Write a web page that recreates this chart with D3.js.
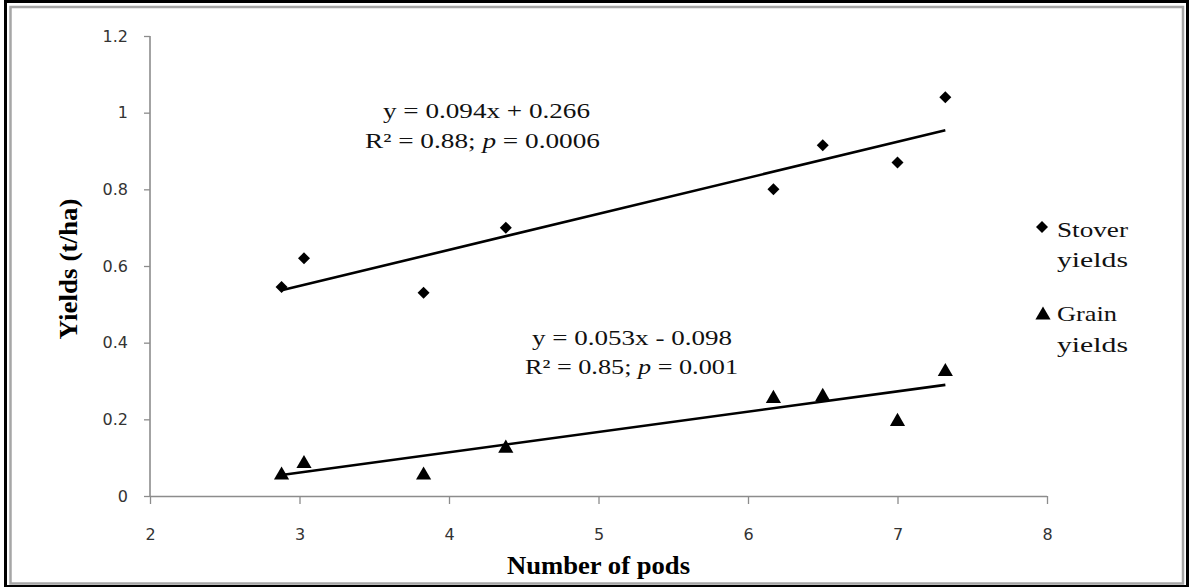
<!DOCTYPE html>
<html><head><meta charset="utf-8">
<script src="https://cdn.jsdelivr.net/npm/d3@7"></script>
<style>html,body{margin:0;padding:0;background:#fff;} svg{display:block;}</style>
</head><body>
<svg id="chart" width="1192" height="587"></svg>
<script>
// Number of pods per plant vs. yields
const pods = [2.88, 3.03, 3.83, 4.38, 6.17, 6.50, 7.00, 7.32];
const stoverYields = [0.545, 0.62, 0.53, 0.70, 0.80, 0.915, 0.87, 1.04];
const grainYields = [0.06, 0.09, 0.06, 0.13, 0.26, 0.265, 0.20, 0.33];
// linear fits: [slope, intercept]
const stoverFit = [0.094, 0.266];
const grainFit = [0.053, -0.098];
const stoverEq = ["y = 0.094x + 0.266", "R² = 0.88; ", "p", " = 0.0006"];
const grainEq = ["y = 0.053x - 0.098", "R² = 0.85; ", "p", " = 0.001"];
const xTicks = [2, 3, 4, 5, 6, 7, 8];
const yTicks = [0, 0.2, 0.4, 0.6, 0.8, 1, 1.2];
const yTickLabels = ["0", "0.2", "0.4", "0.6", "0.8", "1", "1.2"];
const legendLabels = [["Stover", "yields"], ["Grain", "yields"]];
const xTitle = "Number of pods";
const yTitle = "Yields (t/ha)";

const svg = d3.select("#chart");
const serif = "'Liberation Serif', 'Times New Roman', serif";

// frame
svg.append("rect").attr("x", 5.5).attr("y", 1.5).attr("width", 1182).attr("height", 585)
  .attr("fill", "none").attr("stroke", "#000").attr("stroke-width", 3);
svg.append("rect").attr("x", 10.5).attr("y", 7).attr("width", 1172.5).attr("height", 576.5)
  .attr("fill", "none").attr("stroke", "#a6a6a6").attr("stroke-width", 2.5);

const x = d3.scaleLinear().domain([2, 8]).range([150, 1047]);
const y = d3.scaleLinear().domain([0, 1.2]).range([496, 36]);

const axisColor = "#8c8c8c";
const gx = svg.append("g").attr("transform", `translate(0,${y(0)})`)
  .call(d3.axisBottom(x).tickValues(xTicks).tickSize(8).tickPadding(25).tickFormat(d3.format("d")));
const gy = svg.append("g").attr("transform", `translate(${x(2)},0)`)
  .call(d3.axisLeft(y).tickValues(yTicks).tickSize(6).tickPadding(16)
    .tickFormat((d, i) => yTickLabels[i]));
[gx, gy].forEach(g => {
  g.select(".domain").attr("stroke", axisColor).attr("stroke-width", 1.6);
  g.selectAll(".tick line").attr("stroke", axisColor).attr("stroke-width", 1.3);
  g.selectAll(".tick text").attr("fill", "#333").attr("font-family", "'DejaVu Sans', Verdana, sans-serif")
    .attr("font-size", 16);
});
gx.select(".domain").attr("d", `M${x(2)},0.5H${x(8)}`);
gy.select(".domain").attr("d", `M0,${y(0)}V${y(1.2)}`);

// axis titles
svg.append("text").attr("x", (x(2) + x(8)) / 2).attr("y", 574).attr("text-anchor", "middle")
  .attr("font-family", serif).attr("font-weight", "bold").attr("font-size", 26)
  .attr("textLength", 183).attr("lengthAdjust", "spacingAndGlyphs").text(xTitle);
svg.append("text").attr("transform", `translate(77,${(y(0) + y(1.2)) / 2 + 3}) rotate(-90)`)
  .attr("text-anchor", "middle")
  .attr("font-family", serif).attr("font-weight", "bold").attr("font-size", 26)
  .attr("textLength", 141).attr("lengthAdjust", "spacingAndGlyphs").text(yTitle);

// marker shapes
const diamond = {
  draw(ctx, size) {
    const r = Math.sqrt(size / 2);
    ctx.moveTo(0, -r); ctx.lineTo(r, 0); ctx.lineTo(0, r); ctx.lineTo(-r, 0); ctx.closePath();
  }
};
const triangle = {
  draw(ctx, size) {
    const w = Math.sqrt(size * 2 / 0.87), h = w * 0.87;
    ctx.moveTo(0, -h / 2); ctx.lineTo(w / 2, h / 2); ctx.lineTo(-w / 2, h / 2); ctx.closePath();
  }
};
const diamondPath = d3.symbol().type(diamond).size(72)();
const trianglePath = d3.symbol().type(triangle).size(100)();

// trendlines
const line = d3.line().x(d => x(d[0])).y(d => y(d[1]));
const xExtent = d3.extent(pods);
[stoverFit, grainFit].forEach(f => {
  svg.append("path")
    .attr("d", line(xExtent.map(v => [v, f[0] * v + f[1]])))
    .attr("fill", "none").attr("stroke", "#000").attr("stroke-width", 2.6);
});

// points
svg.append("g").selectAll("path").data(pods).join("path")
  .attr("d", diamondPath).attr("fill", "#000")
  .attr("transform", (d, i) => `translate(${x(d)},${y(stoverYields[i])})`);
svg.append("g").selectAll("path").data(pods).join("path")
  .attr("d", trianglePath).attr("fill", "#000")
  .attr("transform", (d, i) => `translate(${x(d)},${y(grainYields[i])})`);

// regression labels (wide-set serif lettering)
function equation(eq, x1, base1, w1, x2, base2, w2) {
  const t1 = svg.append("text").attr("x", x1).attr("y", base1)
    .attr("font-family", serif).attr("font-size", 21).attr("fill", "#111")
    .attr("textLength", w1).attr("lengthAdjust", "spacingAndGlyphs").text(eq[0]);
  const t2 = svg.append("text").attr("x", x2).attr("y", base2)
    .attr("font-family", serif).attr("font-size", 21).attr("fill", "#111")
    .attr("textLength", w2).attr("lengthAdjust", "spacingAndGlyphs");
  t2.append("tspan").text(eq[1]);
  t2.append("tspan").attr("font-style", "italic").text(eq[2]);
  t2.append("tspan").text(eq[3]);
}
equation(stoverEq, 383, 118, 207, 365, 148, 235);
equation(grainEq, 532, 345, 200, 525, 373.5, 213);

// legend
const legend = svg.append("g");
[[diamondPath, 1042, 227, 236.7], [trianglePath, 1043, 313, 321]].forEach((m, i) => {
  legend.append("path").attr("d", m[0]).attr("fill", "#000")
    .attr("transform", `translate(${m[1]},${m[2]})`);
  legendLabels[i].forEach((s, j) => {
    legend.append("text").attr("x", 1057).attr("y", m[3] + j * 30.5)
      .attr("font-family", serif).attr("font-size", 22).attr("fill", "#111")
      .attr("textLength", s.length > 5 ? 71 : 60).attr("lengthAdjust", "spacingAndGlyphs").text(s);
  });
});
</script>
</body></html>
